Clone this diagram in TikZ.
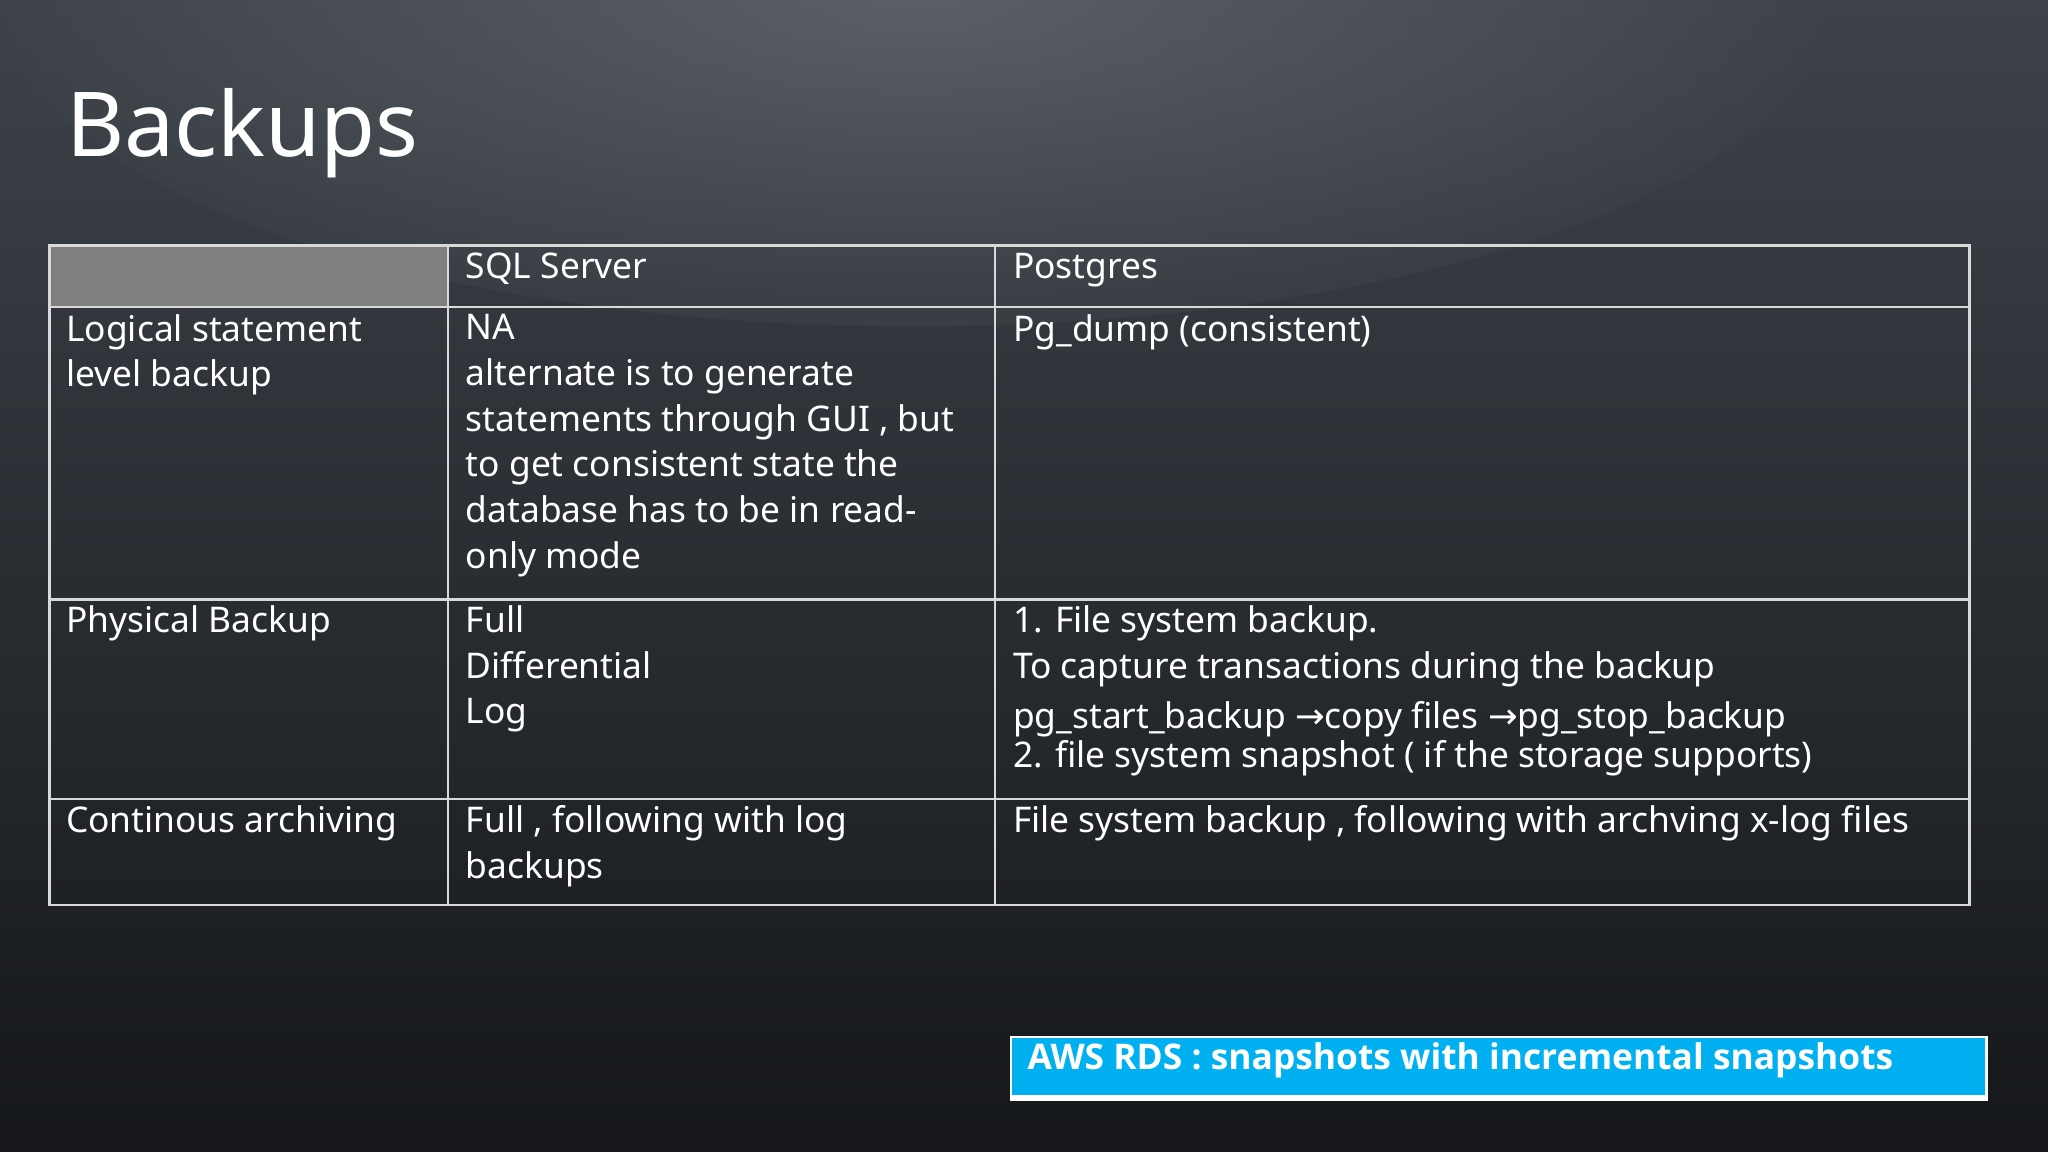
\documentclass[tikz,border=0pt]{standalone}
\usepackage{fontspec}
\setmainfont{Noto Sans}
\newfontfamily\arrfont{DejaVu Sans}
\newfontfamily\boldsans{Open Sans Bold}
\newcommand{\rarr}{{\arrfont →}}
\begin{document}
\begin{tikzpicture}[x=0.01cm,y=-0.01cm,
  cell/.style={anchor=north west,inner sep=0pt,text=white,align=left,font=\fontsize{7.7}{9.95}\selectfont},
  grid/.style={draw=white!85!black,line width=0.5pt}]
\definecolor{bgtop}{HTML}{3E434A}
\definecolor{bgbot}{HTML}{15171A}
\definecolor{hdr}{HTML}{7F7F7F}
\definecolor{aws}{HTML}{00B0F0}
\useasboundingbox (0,0) rectangle (1568,882);
\shade[top color=bgtop,bottom color=bgbot] (0,0) rectangle (1568,882);
\shade[inner color=white!30!bgtop,outer color=bgtop,opacity=0.5] (700,0) ellipse (700 and 250);
\node[anchor=base west,inner sep=0pt,text=white,font=\fontsize{19.5}{24}\selectfont] (title) at (50,120) {Backups};
\fill[hdr] (38,188) rectangle (343,235);
\draw[grid] (38,188) rectangle (1508,693);
\foreach \y in {235,459,612} \draw[grid] (38,\y) -- (1508,\y);
\foreach \x in {343,762} \draw[grid] (\x,188) -- (\x,693);
\node[cell] (h1) at (356,193) {SQL Server};
\node[cell] (h2) at (775,193) {Postgres};
\node[cell] (r1a) at (50,240) {Logical statement\\level backup};
\node[cell] (r1b) at (356,240) {NA\\alternate is to generate\\statements through GUI , but\\to get consistent state the\\database has to be in read-\\only mode};
\node[cell] (r1c) at (775,240) {Pg\_dump (consistent)};
\node[cell] (r2a) at (50,463) {Physical Backup};
\node[cell] (r2b) at (356,463) {Full\\Differential\\Log};
\node[cell] (r2c) at (775,463) {1. File system backup.\\To capture transactions during the backup\\[1pt]pg\_start\_backup \rarr copy files \rarr pg\_stop\_backup\\[-1.5pt]2. file system snapshot ( if the storage supports)};
\node[cell] (r3a) at (50,616) {Continous archiving};
\node[cell] (r3b) at (356,616) {Full , following with log\\backups};
\node[cell] (r3c) at (775,616) {File system backup , following with archving x-log files};
\fill[white] (773,793) rectangle (1522,843);
\fill[aws] (775,795) rectangle (1520,838);
\node[anchor=base west,inner sep=0pt,text=white,font=\boldsans\fontsize{7.7}{9}\selectfont] (aws) at (786,819) {AWS RDS : snapshots with incremental snapshots};
\end{tikzpicture}
\end{document}
